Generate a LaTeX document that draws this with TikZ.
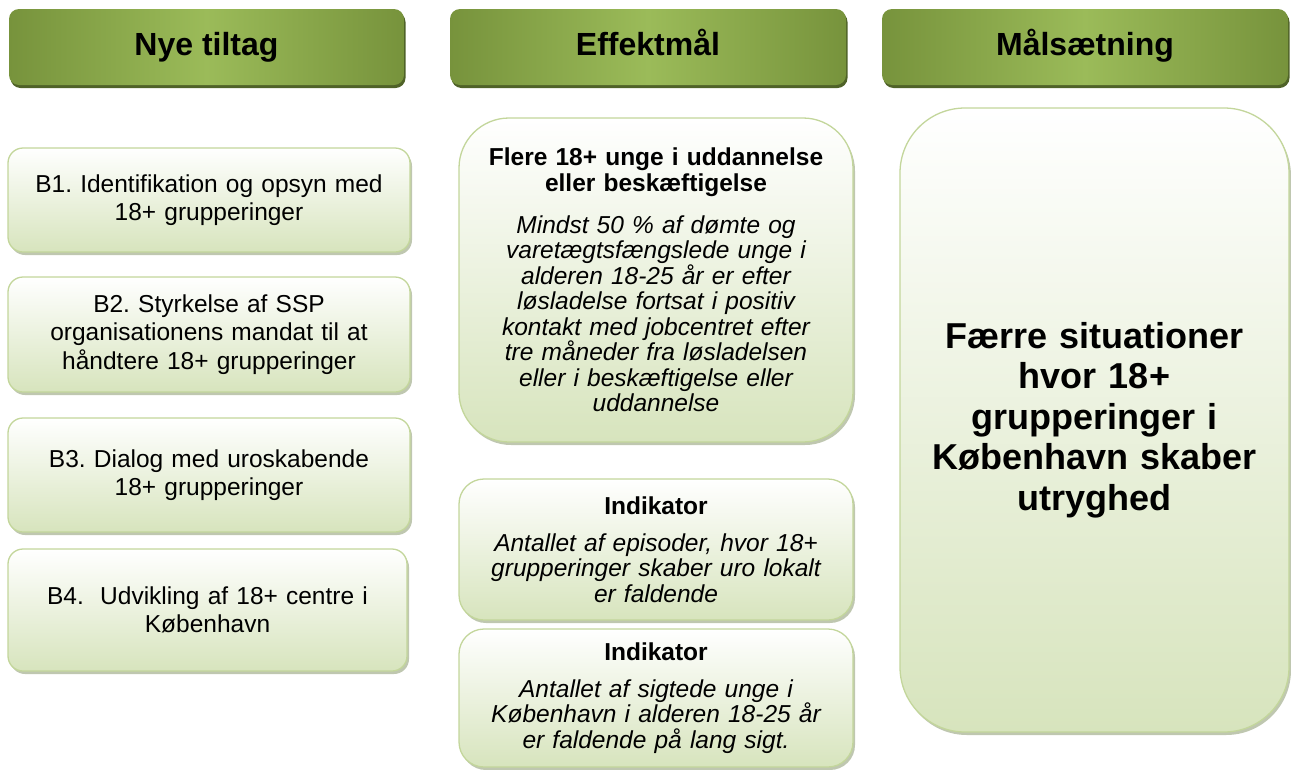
\documentclass[tikz,border=0pt]{standalone}
\usepackage{fontspec}
\setmainfont{Liberation Sans}
\usetikzlibrary{shadows}
\definecolor{hdark}{HTML}{77933C}
\definecolor{hlight}{HTML}{9BBB59}
\definecolor{hshadow}{HTML}{4F6228}
\definecolor{bfill}{HTML}{D7E4BD}
\definecolor{bline}{HTML}{C3D69B}
\definecolor{bshadow}{HTML}{7F8F62}
\frenchspacing
\begin{document}
\frenchspacing
\begin{tikzpicture}[x=1pt,y=-1pt,
  header/.style={rounded corners=10pt, left color=hdark, right color=hdark, middle color=hlight,
    inner sep=0pt, minimum height=76pt, text height=24pt, text depth=7pt,
    font=\fontsize{32}{36}\selectfont\bfseries,
    drop shadow={shadow xshift=1.5pt, shadow yshift=-3pt, fill=hshadow, opacity=1}},
  box/.style={draw=bline, line width=1.3pt, top color=white, bottom color=bfill, inner sep=0pt, align=center,
    drop shadow={shadow xshift=2pt, shadow yshift=-3pt, fill=bshadow, opacity=0.5}},
  leftbox/.style={box, rounded corners=15pt, font=\fontsize{24.5}{28.5}\selectfont\frenchspacing},
  midbox/.style={box, font=\fontsize{24.5}{25.5}\selectfont},
]
\useasboundingbox (0,0) rectangle (1291,769);
% headers
\node[header, minimum width=395pt] (h1) at (206.5,47) {Nye tiltag};
\node[header, minimum width=396pt] (h2) at (648,47) {Effektmål};
\node[header, minimum width=406pt] (h3) at (1085,47) {Målsætning};
% left column
\node[leftbox, minimum width=402pt, minimum height=104pt, text width=392pt] (b1) at (209,200)
  {B1. Identifikation og opsyn med\\18+ grupperinger};
\node[leftbox, minimum width=402pt, minimum height=115pt, text width=392pt] (b2) at (209,334.5)
  {B2. Styrkelse af SSP\\organisationens mandat til at\\håndtere 18+ grupperinger};
\node[leftbox, minimum width=402pt, minimum height=114pt, text width=392pt] (b3) at (209,475)
  {B3. Dialog med uroskabende\\18+ grupperinger};
\node[leftbox, minimum width=399pt, minimum height=122pt, text width=389pt] (b4) at (207.5,610)
  {B4.\ \ Udvikling af 18+ centre i\\København};
% middle column
\node[midbox, rounded corners=50pt, minimum width=394pt, minimum height=324pt, text width=384pt] (m1) at (656,280)
  {{\bfseries Flere 18+ unge i uddannelse\\[0.5pt]eller beskæftigelse}\\[16pt]
   {\itshape Mindst 50 \% af dømte og\\varetægtsfængslede unge i\\alderen 18-25 år er efter\\løsladelse fortsat i positiv\\kontakt med jobcentret efter\\tre måneder fra løsladelsen\\eller i beskæftigelse eller\\uddannelse}};
\node[midbox, rounded corners=25pt, minimum width=394pt, minimum height=141pt, text width=384pt] (m2) at (656,549.5)
  {{\bfseries Indikator}\\[11pt]
   {\itshape Antallet af episoder, hvor 18+\\grupperinger skaber uro lokalt\\er faldende}};
\node[midbox, rounded corners=25pt, minimum width=394pt, minimum height=138pt, text width=384pt] (m3) at (656,698)
  {{\bfseries Indikator}\\[11pt]
   {\itshape Antallet af sigtede unge i\\København i alderen 18-25 år\\er faldende på lang sigt.}};
% right column
\node[box, rounded corners=65pt, minimum width=389pt, minimum height=624pt, text width=379pt,
  font=\fontsize{36}{40.5}\selectfont\bfseries] (r) at (1094.5,420)
  {Færre situationer\\hvor 18+\\grupperinger i\\København skaber\\utryghed};
\end{tikzpicture}
\end{document}
